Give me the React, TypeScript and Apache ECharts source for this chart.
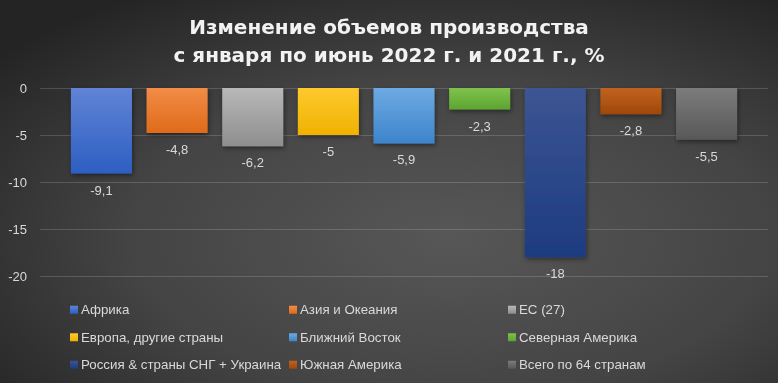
import React, { useEffect, useRef } from "react";
import * as echarts from "echarts";

const titleLines = ["Изменение объемов производства", "с января по июнь 2022 г. и 2021 г., %"];
const seriesNames = [
  "Африка",
  "Азия и Океания",
  "ЕС (27)",
  "Европа, другие страны",
  "Ближний Восток",
  "Северная Америка",
  "Россия & страны СНГ + Украина",
  "Южная Америка",
  "Всего по 64 странам",
];
const seriesValues = [-9.1, -4.8, -6.2, -5, -5.9, -2.3, -18, -2.8, -5.5];
const colorsTop = ["#5f84d6", "#f28c46", "#b8b8b8", "#ffc92e", "#6eaae2", "#80c24e", "#3c5592", "#c2621f", "#7c7c7c"];
const colorsBottom = ["#2e5ec2", "#df6a1a", "#8e8e8e", "#efb200", "#3c84cc", "#5ca430", "#1d3b80", "#9e480b", "#585858"];
const yTicks = { min: -20, max: 0, interval: 5 };
const legendColumns = [
  ["Африка", "Европа, другие страны", "Россия & страны СНГ + Украина"],
  ["Азия и Океания", "Ближний Восток", "Южная Америка"],
  ["ЕС (27)", "Северная Америка", "Всего по 64 странам"],
];
const legendLefts = [65, 284, 503];

export default function App() {
  const ref = useRef<HTMLDivElement>(null);
  useEffect(() => {
    if (!ref.current) return;
    const chart = echarts.init(ref.current, undefined, { renderer: "svg" });
    const font = "Liberation Sans";
    const textColor = "#d9d9d9";
    chart.setOption({
      animation: false,
      backgroundColor: new echarts.graphic.RadialGradient(0.58, 0.62, 0.75, [
        { offset: 0, color: "#575757" },
        { offset: 0.55, color: "#444444" },
        { offset: 1, color: "#242424" },
      ]),
      title: {
        text: titleLines.join("\n"),
        left: "center",
        top: 8,
        textStyle: {
          color: "#f2f2f2",
          fontFamily: "DejaVu Sans",
          fontWeight: "bold",
          fontSize: 20,
          lineHeight: 28,
        },
      },
      grid: { left: 40, right: 10, top: 88, bottom: 107, containLabel: false },
      xAxis: {
        type: "category",
        data: [""],
        show: false,
      },
      yAxis: {
        type: "value",
        min: yTicks.min,
        max: yTicks.max,
        interval: yTicks.interval,
        axisLine: { show: false },
        axisTick: { show: false },
        axisLabel: { color: textColor, fontSize: 13, fontFamily: font, margin: 13 },
        splitLine: { lineStyle: { color: "rgba(255,255,255,0.16)", width: 1 } },
      },
      legend: legendColumns.map((col, i) => ({
        data: col,
        orient: "vertical",
        left: legendLefts[i],
        top: 297,
        itemWidth: 8,
        itemHeight: 8,
        itemGap: 12,
        icon: "rect",
        selectedMode: false,
        textStyle: { color: textColor, fontSize: 13.3, fontFamily: font, lineHeight: 15.5, padding: [0, 0, 0, -2] },
      })),
      series: seriesNames.map((name, i) => ({
        name,
        type: "bar",
        data: [seriesValues[i]],
        barWidth: 61,
        barGap: "24%",
        itemStyle: {
          color: new echarts.graphic.LinearGradient(0, 0, 0, 1, [
            { offset: 0, color: colorsTop[i] },
            { offset: 1, color: colorsBottom[i] },
          ]),
          shadowBlur: 5,
          shadowColor: "rgba(0,0,0,0.45)",
          shadowOffsetY: 2,
          shadowOffsetX: 1,
        },
        label: {
          show: true,
          position: "bottom",
          distance: 10,
          color: textColor,
          fontSize: 13,
          fontFamily: font,
          formatter: (p: any) => String(p.value).replace(".", ","),
        },
      })),
    });
    return () => chart.dispose();
  }, []);
  return (
    <div
      ref={ref}
      style={{ position: "fixed", left: 0, top: 0, width: 778, height: 383 }}
    />
  );
}
